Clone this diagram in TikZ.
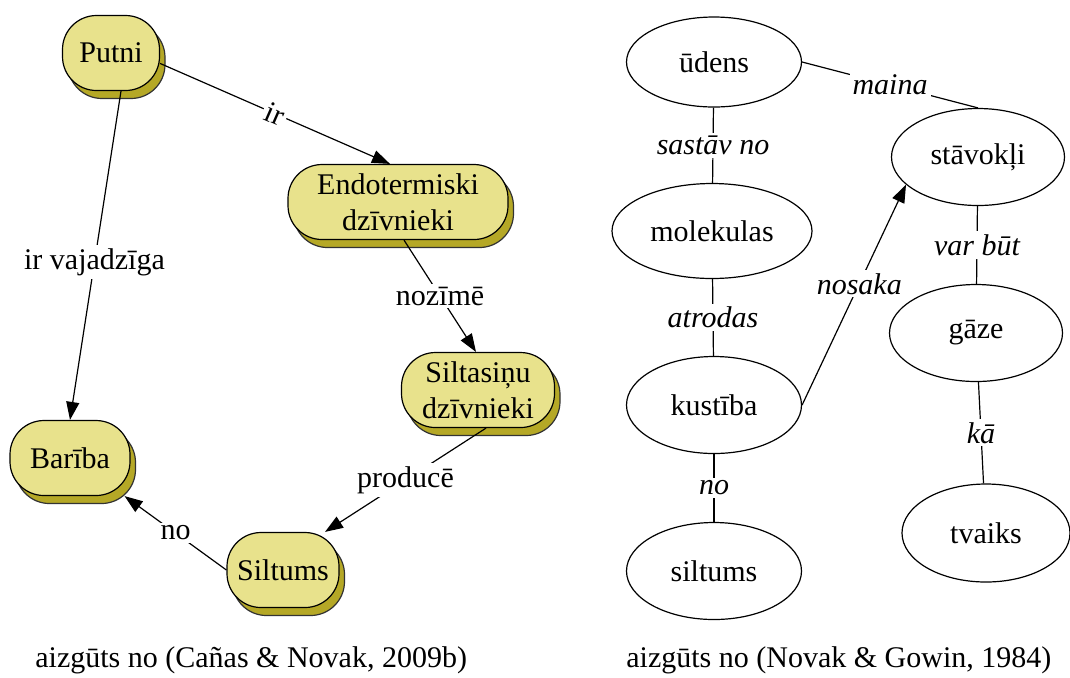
\documentclass[tikz,border=0pt]{standalone}
\usepackage{fontspec}
\setmainfont{Liberation Serif}
\usetikzlibrary{positioning}
\usetikzlibrary{arrows.meta}
\usetikzlibrary{shapes.geometric}
\usetikzlibrary{shadows}
\definecolor{cmapfill}{RGB}{232,226,140}
\definecolor{cmapshade}{RGB}{181,168,38}
\tikzset{
    concept/.style={shape=rectangle, rounded corners=17pt, draw=black, line width=0.6pt,
        fill=cmapfill, minimum height=37.5pt, inner sep=0pt, align=center,
        drop shadow={shadow xshift=2.75pt, shadow yshift=-4pt, fill=cmapshade, opacity=1, draw=black!80}},
    oval/.style={shape=ellipse, draw=black, line width=0.6pt, inner sep=0pt},
    link/.style={fill=white, inner sep=1.5pt},
    ilink/.style={link, font=\fontsize{15}{18}\selectfont\itshape},
    arr/.style={draw=black, line width=0.6pt, -{Triangle[length=9pt, width=6.5pt]}},
    joint/.style={draw=black, line width=0.6pt},
}

\begin{document}
\begin{tikzpicture}[x=0.5pt, y=-0.5pt, font=\fontsize{15}{18}\selectfont]
    \useasboundingbox (0,0) rectangle (1070,677);

    % Cañas & Novak
    \node[concept, minimum width=48.5pt] (Putni) at (111,53) {Putni};
    \node[concept, minimum width=110pt] (Endo) at (398,202) {Endotermiski\\dzīvnieki};
    \node[concept, minimum width=76.5pt] (Silt_D) at (478,390) {Siltasiņu\\dzīvnieki};
    \node[concept, minimum width=60pt] (Bariba) at (70,458) {Barība};
    \node[concept, minimum width=56pt] (Siltums) at (283,570) {Siltums};

    \path (Putni.-12) edge[arr] node[link, sloped] {ir} ([xshift=-4pt]Endo.north);
    \path ([xshift=5pt]Putni.south) edge[arr] node[link, pos=0.52] {ir vajadzīga} (Bariba.north);
    \path ([xshift=3pt]Endo.south) edge[arr] node[link] {nozīmē} ([xshift=-1pt]Silt_D.north);
    \path ([xshift=4pt]Silt_D.south) edge[arr] node[link] {producē} ([xshift=21pt]Siltums.north);
    \path (Siltums.west) edge[arr] node[link] {no} ([xshift=-3pt]Bariba.south east);

    % Novak & Gowin
    \node[oval, minimum width=87.5pt, minimum height=45pt] (Udens) at (714,62) {ūdens};
    \node[oval, minimum width=100pt, minimum height=47.5pt] (Molekulas) at (712,231) {molekulas};
    \node[oval, minimum width=87.5pt, minimum height=48.5pt] (Kustiba) at (714,405) {kustība};
    \node[oval, minimum width=87.5pt, minimum height=48.5pt] (Siltums_N) at (714,571) {siltums};
    \node[oval, minimum width=86.5pt, minimum height=48.5pt] (Stavokli) at (978,157) {stāvokļi};
    \node[oval, minimum width=86.5pt, minimum height=48.5pt] (Gaze) at (976,333) {gāze};
    \node[oval, minimum width=84pt, minimum height=49pt] (Tvaiks) at (986,533) {tvaiks};

    \path (Udens.east) edge[joint] node[ilink] {maina} (Stavokli.north);
    \path (Udens) edge[joint] node[ilink] {sastāv no} (Molekulas);
    \path (Molekulas) edge[joint] node[ilink] {atrodas} (Kustiba);
    \path (Kustiba) edge[joint] node[ilink] {no} (Siltums_N);
    \path (Kustiba.east) edge[arr] node[ilink, pos=0.55] {nosaka} (Stavokli.201);
    \path (Stavokli) edge[joint] node[ilink] {var būt} (Gaze);
    \path (Gaze) edge[joint] node[ilink] {kā} (Tvaiks);

    \node[anchor=west, inner sep=0pt] (Cap_L) at (35,660) {aizgūts no (Cañas \& Novak, 2009b)};
    \node[anchor=west, inner sep=0pt] (Cap_R) at (626,660) {aizgūts no (Novak \& Gowin, 1984)};
\end{tikzpicture}
\end{document}
